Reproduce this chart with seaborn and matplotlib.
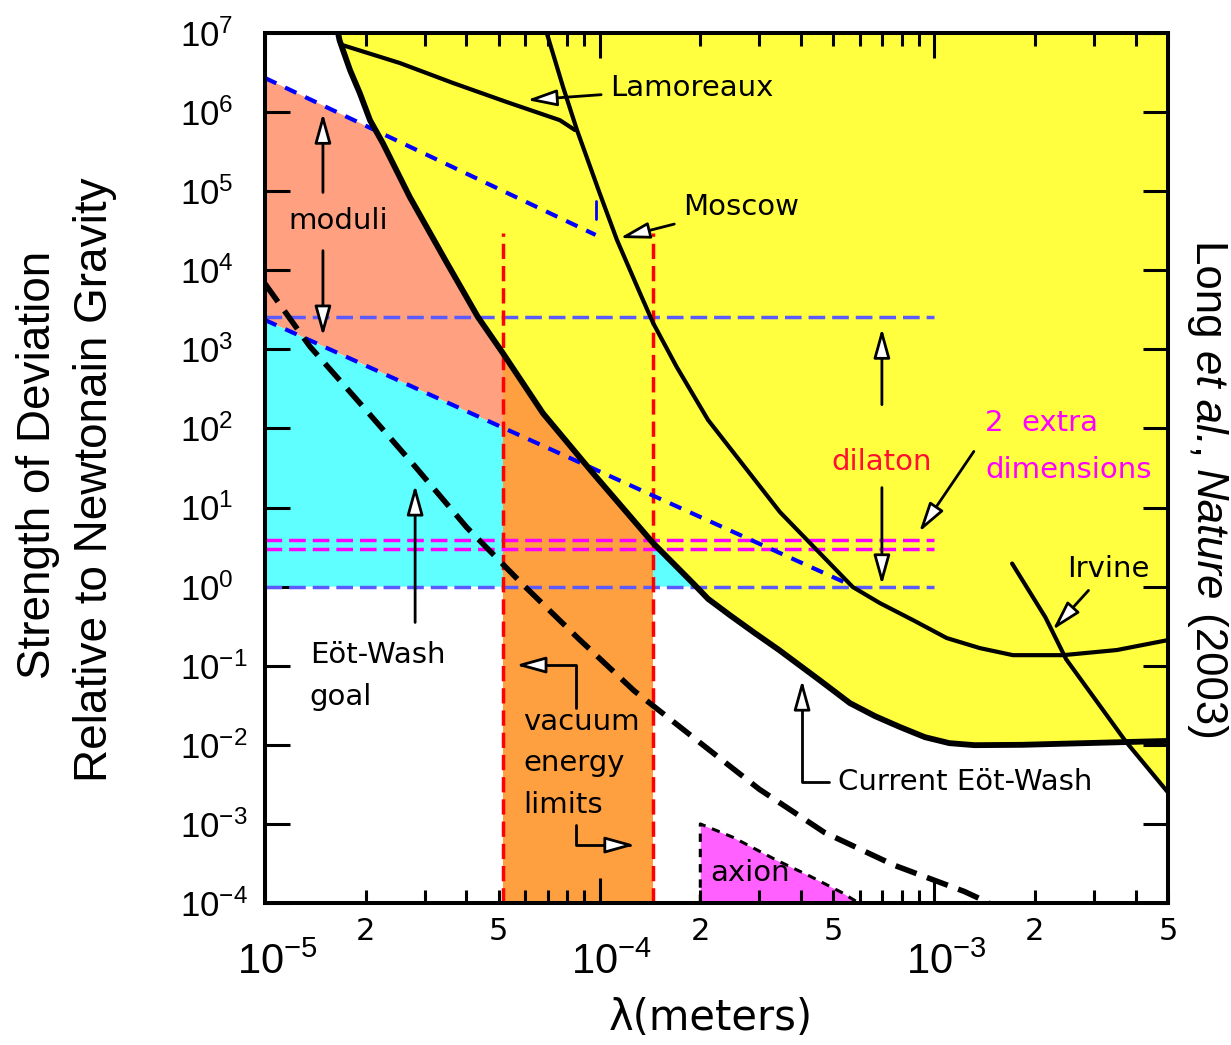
import numpy as np
import matplotlib
matplotlib.use("Agg")
import matplotlib.pyplot as plt
from matplotlib.transforms import ScaledTranslation
import seaborn as sns

# ---- data: lambda in meters, alpha = strength relative to gravity ----
# Current Eot-Wash limit
ew_lam = [1.64e-5, 1.67e-5, 1.795e-5, 1.92e-5, 2.06e-5, 2.25e-5, 2.71e-5, 3.50e-5,
          4.33e-5, 5.14e-5, 6.77e-5, 9.55e-5, 1.445e-4, 1.90e-4, 2.11e-4, 2.45e-4,
          2.91e-4, 3.44e-4, 4.54e-4, 5.60e-4, 6.65e-4, 7.90e-4, 9.38e-4, 1.11e-3,
          1.32e-3, 1.83e-3, 5.0e-3]
ew_alpha = [1.19e7, 8.1e6, 3.40e6, 1.74e6, 7.9e5, 4.05e5, 8.4e4, 1.23e4,
            2.56e3, 897, 156, 27.3, 3.56, 1.11, 0.70, 0.437,
            0.259, 0.158, 0.066, 0.0337, 0.0231, 0.0168, 0.0125, 0.0105,
            0.0099, 0.0100, 0.0112]

# Moscow
mos_lam = [6.87e-5, 7.01e-5, 7.78e-5, 8.56e-5, 1.0e-4, 1.127e-4, 1.32e-4, 1.445e-4,
           1.70e-4, 2.11e-4, 3.46e-4, 5.71e-4, 6.88e-4, 8.64e-4, 1.09e-3, 1.37e-3,
           1.72e-3, 2.43e-3, 3.52e-3, 5.0e-3]
mos_alpha = [1.16e7, 8.9e6, 2.07e6, 5.93e5, 9.5e4, 2.42e4, 5.16e3, 2.16e3,
             600, 128, 8.77, 0.99, 0.62, 0.378, 0.224, 0.167,
             0.136, 0.136, 0.158, 0.211]

# Lamoreaux
lam_lam = [1.71e-5, 2.53e-5, 3.65e-5, 5.28e-5, 7.61e-5, 8.44e-5]
lam_alpha = [7.0e6, 4.17e6, 2.33e6, 1.34e6, 7.9e5, 5.93e5]

# Irvine
irv_lam = [1.71e-3, 2.15e-3, 2.48e-3, 3.74e-3, 5.0e-3]
irv_alpha = [1.96, 0.41, 0.121, 0.011, 0.0025]

# Eot-Wash goal
goal_lam = [1e-5, 1.36e-5, 1.96e-5, 2.81e-5, 4.01e-5, 5.85e-5, 8.65e-5, 1.27e-4,
            1.95e-4, 3.0e-4, 4.70e-4, 7.6e-4, 1.23e-3, 1.46e-3]
goal_alpha = [6760, 1096, 190, 33, 5.6, 1.1, 0.22, 0.048,
              0.0115, 0.00275, 7.8e-4, 3.0e-4, 1.4e-4, 1e-4]

# moduli band (blue dashed diagonals)
mod_up_lam = [1e-5, 9.73e-5]
mod_up_alpha = [2.7e6, 2.8e4]
mod_up_tick = [7.6e4, 4.4e4]
mod_lo_lam = [1e-5, 5.46e-4]
mod_lo_alpha = [2350, 1.11]

# dilaton & extra dimension horizontal levels
hline_span = [1e-5, 1e-3]
dil_levels = [2600, 1.0]
xdim_levels = [3.88, 2.99]

# vacuum energy limits
vac_lam = [5.13e-5, 1.44e-4]
vac_top = 2.95e4

# axion
axion_lam = [2.0e-4, 2.5e-4, 3.37e-4, 4.24e-4, 5.31e-4, 5.95e-4]
axion_alpha = [1e-3, 6.8e-4, 3.5e-4, 2.2e-4, 1.35e-4, 1e-4]

# ticks
x_major = [1e-5, 1e-4, 1e-3]
x_major_labels = ['$10^{-5}$', '$10^{-4}$', '$10^{-3}$']
x_minor = [m * 10.0 ** e for e in (-5, -4, -3) for m in range(2, 10) if m * 10.0 ** e <= 5.001e-3]
x_minor_labels = [('2' if abs(v / 10.0 ** np.floor(np.log10(v)) - 2) < 1e-6 else
                   '5' if abs(v / 10.0 ** np.floor(np.log10(v)) - 5) < 1e-6 else '') for v in x_minor]
y_major = [10.0 ** e for e in range(-4, 8)]
y_major_labels = ['$10^{%d}$' % e for e in range(-4, 8)]

# citation pieces (text, style)
cite_parts = [('Long ', 'normal'), ('et al.', 'italic'), (', ', 'normal'),
              ('Nature', 'italic'), (' (2003)', 'normal')]

YELLOW = '#ffff40'
SALMON = '#ffa080'
CYAN = '#60ffff'
ORANGE = '#ffa040'
AXION = '#ff60ff'
BLUE = '#0000ff'
LBLUE = '#5a5aff'
MAGENTA = '#ff00ff'
RED = '#ff0000'

sns.set_style('white')
plt.rcParams['font.family'] = ['DejaVu Sans']
plt.rcParams['mathtext.fontset'] = 'custom'
plt.rcParams['mathtext.rm'] = 'Liberation Sans'
plt.rcParams['mathtext.it'] = 'Liberation Sans:italic'
plt.rcParams['lines.scale_dashes'] = False
for key in ['text.color', 'axes.labelcolor', 'xtick.color', 'ytick.color', 'axes.edgecolor']:
    plt.rcParams[key] = 'black'

fig = plt.figure(figsize=(12.31, 10.45), dpi=100)
ax = fig.add_axes([265 / 1231, 1 - 903 / 1045, 903 / 1231, 870 / 1045])
ax.set_xscale('log')
ax.set_yscale('log')
ax.set_axisbelow(False)
ytop = 1e7

# filled regions
ax.fill([mod_up_lam[0], mod_up_lam[1], mod_lo_lam[1], mod_lo_lam[0]],
        [mod_up_alpha[0], mod_up_alpha[1], mod_lo_alpha[1], mod_lo_alpha[0]],
        color=SALMON, lw=0, zorder=1)
ax.fill([mod_lo_lam[0], mod_lo_lam[1], mod_lo_lam[1], mod_lo_lam[0]],
        [mod_lo_alpha[0], mod_lo_alpha[1], dil_levels[1], dil_levels[1]],
        color=CYAN, lw=0, zorder=1)
ax.axvspan(vac_lam[0], vac_lam[1], color=ORANGE, lw=0, zorder=1.5)
ax.fill_between(ew_lam, ew_alpha, ytop, color=YELLOW, lw=0, zorder=2)
ax.fill_between(irv_lam, irv_alpha, ytop, color=YELLOW, lw=0, zorder=2)
ax.fill_between(axion_lam, axion_alpha, 1e-4, color=AXION, lw=0, zorder=2)

# dashed reference lines
for lev in dil_levels:
    ax.plot(hline_span, [lev, lev], color=LBLUE, lw=2.5, dashes=(12, 5), zorder=3)
for lev in xdim_levels:
    ax.plot(hline_span, [lev, lev], color=MAGENTA, lw=2.5, dashes=(12, 5), zorder=3)
for lv in vac_lam:
    ax.plot([lv, lv], [1e-4, vac_top], color=RED, lw=2.5, dashes=(11, 5), zorder=3)
ax.plot(mod_up_lam, mod_up_alpha, color=BLUE, lw=3, dashes=(9, 7), zorder=3)
ax.plot([mod_up_lam[1]] * 2, mod_up_tick, color=BLUE, lw=2, zorder=3)
ax.plot(mod_lo_lam, mod_lo_alpha, color=BLUE, lw=3, dashes=(9, 7), zorder=3)
ax.plot([axion_lam[0]] + axion_lam, [1e-4] + axion_alpha, color='black', lw=2.2,
        dashes=(6, 5), zorder=3)

# experimental curves
sns.lineplot(x=ew_lam, y=ew_alpha, ax=ax, color='black', linewidth=4.2, sort=False,
             estimator=None, zorder=4)
sns.lineplot(x=mos_lam, y=mos_alpha, ax=ax, color='black', linewidth=3, sort=False,
             estimator=None, zorder=4)
sns.lineplot(x=lam_lam, y=lam_alpha, ax=ax, color='black', linewidth=3, sort=False,
             estimator=None, zorder=4)
sns.lineplot(x=irv_lam, y=irv_alpha, ax=ax, color='black', linewidth=3, sort=False,
             estimator=None, zorder=4)
ax.plot(goal_lam, goal_alpha, color='black', lw=4, dashes=(16, 8), zorder=4)

# axes / ticks
ax.set_xlim(1e-5, 5e-3)
ax.set_ylim(1e-4, ytop)
ax.set_xticks(x_major, labels=x_major_labels)
ax.set_xticks(x_minor, labels=x_minor_labels, minor=True)
ax.set_yticks(y_major, labels=y_major_labels, ha='left')
ax.yaxis.set_minor_locator(matplotlib.ticker.NullLocator())
ax.tick_params(which='both', direction='in', top=True, right=True, bottom=True, left=True,
               color='black', width=2.2)
ax.tick_params(which='major', length=18)
ax.tick_params(which='minor', length=9.5)
ax.tick_params(axis='x', which='major', labelsize=30, pad=27)
ax.tick_params(axis='x', which='minor', labelsize=22, pad=10)
ax.tick_params(axis='y', which='major', labelsize=25, pad=61)
ax.grid(False)
for s in ax.spines.values():
    s.set_linewidth(2.9)
    s.set_color('black')
    s.set_zorder(7)
# decade labels sit a little right of their tick in the original
shift = ScaledTranslation(12 / 100, 0, fig.dpi_scale_trans)
for lbl in ax.xaxis.get_majorticklabels():
    lbl.set_transform(lbl.get_transform() + shift)

# annotations
arrow_kw = dict(arrowstyle='-|>,head_length=0.9,head_width=0.25', fc='white', ec='black',
                lw=2, mutation_scale=20, shrinkA=4, shrinkB=0)
fs = 21
ax.annotate('Lamoreaux', xy=(6.07e-5, 1.42e6), xytext=(1.074e-4, 2.01e6), ha='left',
            va='center', fontsize=fs, arrowprops=arrow_kw, zorder=6)
ax.annotate('Moscow', xy=(1.15e-4, 2.56e4), xytext=(1.775e-4, 6.31e4), ha='left',
            va='center', fontsize=fs, arrowprops=arrow_kw, zorder=6)
ax.text(1.65e-5, 4.2e4, 'moduli', ha='center', va='center', fontsize=fs, zorder=6)
ax.annotate('', xy=(1.49e-5, 9.7e5), xytext=(1.49e-5, 8.2e4), arrowprops=arrow_kw, zorder=6)
ax.annotate('', xy=(1.49e-5, 1.47e3), xytext=(1.49e-5, 2.08e4), arrowprops=arrow_kw, zorder=6)
ax.text(6.98e-4, 37.6, 'dilaton', ha='center', va='center', fontsize=fs, color='#ff1030', zorder=6)
ax.annotate('', xy=(6.98e-4, 1855), xytext=(6.98e-4, 170), arrowprops=arrow_kw, zorder=6)
ax.annotate('', xy=(6.98e-4, 1.05), xytext=(6.98e-4, 21), arrowprops=arrow_kw, zorder=6)
ax.text(1.42e-3, 117, '2  extra', ha='left', va='center', fontsize=fs, color=MAGENTA, zorder=6)
ax.text(1.42e-3, 29.8, 'dimensions', ha='left', va='center', fontsize=fs, color=MAGENTA, zorder=6)
ax.annotate('', xy=(9.02e-4, 4.9), xytext=(1.343e-3, 58.6), arrowprops=arrow_kw, zorder=6)
ax.annotate('Irvine', xy=(2.26e-3, 0.283), xytext=(2.49e-3, 1.67), ha='left', va='center',
            fontsize=fs, arrowprops=arrow_kw, zorder=6)
ax.text(1.36e-5, 0.136, 'Eöt-Wash', ha='left', va='center', fontsize=fs, zorder=6)
ax.text(1.36e-5, 0.040, 'goal', ha='left', va='center', fontsize=fs, zorder=6)
ax.annotate('', xy=(2.81e-5, 19.3), xytext=(2.81e-5, 0.30), arrowprops=arrow_kw, zorder=6)
ax.text(5.9e-5, 0.0194, 'vacuum', ha='left', va='center', fontsize=fs, zorder=6)
ax.text(5.9e-5, 0.00589, 'energy', ha='left', va='center', fontsize=fs, zorder=6)
ax.text(5.9e-5, 0.00173, 'limits', ha='left', va='center', fontsize=fs, zorder=6)
ax.annotate('', xy=(5.62e-5, 0.102), xytext=(8.5e-5, 0.0292),
            arrowprops=dict(arrow_kw, shrinkA=0, connectionstyle='angle,angleA=90,angleB=0,rad=0'),
            zorder=6)
ax.annotate('', xy=(1.276e-4, 5.4e-4), xytext=(8.5e-5, 9.7e-4),
            arrowprops=dict(arrow_kw, shrinkA=0, connectionstyle='angle,angleA=90,angleB=0,rad=0'),
            zorder=6)
ax.annotate('Current Eöt-Wash', xy=(4.03e-4, 0.066), xytext=(5.16e-4, 0.00338), ha='left',
            va='center', fontsize=fs,
            arrowprops=dict(arrow_kw, connectionstyle='angle,angleA=0,angleB=90,rad=0'),
            zorder=6)
ax.text(2.14e-4, 2.39e-4, 'axion', ha='left', va='center', fontsize=fs, zorder=6)

# outer labels
fig.text(38 / 1231, 1 - 465 / 1045, 'Strength of Deviation', rotation=90, ha='center',
         va='center', fontsize=33, family='Liberation Sans')
fig.text(95 / 1231, 1 - 480 / 1045, 'Relative to Newtonain Gravity', rotation=90,
         ha='center', va='center', fontsize=33, family='Liberation Sans')
fig.text(711 / 1231, 1 - 1018 / 1045, 'λ(meters)', ha='center', va='center', fontsize=30)

# citation, rotated, built from pieces so the italic parts sit on one baseline
renderer = fig.canvas.get_renderer()
ypix = 1045 - 240
for part, style in cite_parts:
    t = fig.text(1196 / 1231, ypix / 1045, part, rotation=-90, rotation_mode='anchor',
                 ha='left', va='baseline', fontsize=31.5, family='Liberation Sans', style=style)
    ypix -= t.get_window_extent(renderer).height

fig.savefig('out.png', dpi=100)
